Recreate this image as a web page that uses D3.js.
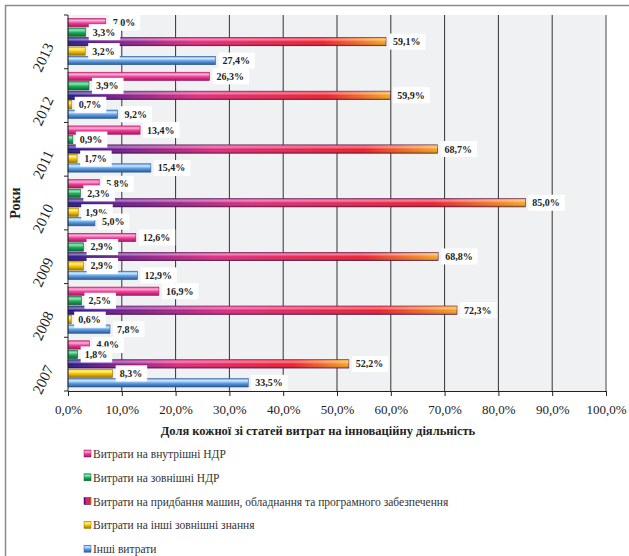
<!DOCTYPE html>
<html>
<head>
<meta charset="utf-8">
<script src="https://cdn.jsdelivr.net/npm/d3@7"></script>
<style>
  body { margin: 0; background: #fff; }
  svg { display: block; }
  svg text { font-family: 'Liberation Serif', 'Times New Roman', Times, serif !important; }
</style>
</head>
<body>
<svg id="chart" width="629" height="556"></svg>
<script>
// innovation spending shares by year, 2007-2013

const years = ['2007', '2008', '2009', '2010', '2011', '2012', '2013'];
const seriesNames = [
  'Витрати на внутрішні НДР',
  'Витрати на зовнішні НДР',
  'Витрати на придбання машин, обладнання та програмного забезпечення',
  'Витрати на інші зовнішні знання',
  'Інші витрати'
];
const internalRD = [4.0, 16.9, 12.6, 5.8, 13.4, 26.3, 7.0];
const externalRD = [1.8, 2.5, 2.9, 2.3, 0.9, 3.9, 3.3];
const machinery  = [52.2, 72.3, 68.8, 85.0, 68.7, 59.9, 59.1];
const otherKnow  = [8.3, 0.6, 2.9, 1.9, 1.7, 0.7, 3.2];
const otherCosts = [33.5, 7.8, 12.9, 5.0, 15.4, 9.2, 27.4];
const xTicks = [0, 10, 20, 30, 40, 50, 60, 70, 80, 90, 100];

const seriesValues = [internalRD, externalRD, machinery, otherKnow, otherCosts];

// colours: [light highlight, base, dark edge]
const palette = [
  ['#fbb0d8', '#ec3f97', '#a3175e'],
  ['#8ee8b0', '#1faa5e', '#0c6634'],
  ['#c060c0', '#b0208a', '#4a0a50'],
  ['#fff28a', '#f3c300', '#9c7400'],
  ['#cfeaff', '#5f9fe4', '#2a5894']
];

const svg = d3.select('#chart');
const margin = {left: 68, top: 15, right: 606, bottom: 391};

const defs = svg.append('defs');
palette.forEach((c, i) => {
  const g = defs.append('linearGradient')
    .attr('id', 'grad' + i).attr('x1', 0).attr('y1', 0).attr('x2', 0).attr('y2', 1);
  g.append('stop').attr('offset', '0%').attr('stop-color', c[1]);
  g.append('stop').attr('offset', '25%').attr('stop-color', c[0]);
  g.append('stop').attr('offset', '55%').attr('stop-color', c[1]);
  g.append('stop').attr('offset', '100%').attr('stop-color', c[2]);
});
// machinery bar runs navy -> magenta -> red -> orange along its length
const hg = defs.append('linearGradient').attr('id', 'gradMach')
  .attr('x1', 0).attr('y1', 0).attr('x2', 1).attr('y2', 0);
[['0%', '#1c168a'], ['12%', '#6a1890'], ['40%', '#e2277e'], ['80%', '#ee1a2a'], ['100%', '#f8a51c']]
  .forEach(s => hg.append('stop').attr('offset', s[0]).attr('stop-color', s[1]));
const shine = defs.append('linearGradient').attr('id', 'shine')
  .attr('x1', 0).attr('y1', 0).attr('x2', 0).attr('y2', 1);
shine.append('stop').attr('offset', '0%').attr('stop-color', '#fff').attr('stop-opacity', 0.1);
shine.append('stop').attr('offset', '25%').attr('stop-color', '#fff').attr('stop-opacity', 0.45);
shine.append('stop').attr('offset', '55%').attr('stop-color', '#fff').attr('stop-opacity', 0);
shine.append('stop').attr('offset', '100%').attr('stop-color', '#000').attr('stop-opacity', 0.35);

// outer frame
svg.append('rect')
  .attr('x', 5.5).attr('y', 5.5).attr('width', 700).attr('height', 700)
  .attr('fill', 'none').attr('stroke', '#8a8a8a').attr('stroke-width', 1.5);

const x = d3.scaleLinear().domain([0, 100]).range([margin.left, margin.right]);
const y = d3.scaleBand().domain(years.slice().reverse()).range([margin.top, margin.bottom]);
const inner = d3.scaleBand().domain(d3.range(5)).range([3.5, y.bandwidth() - 4]).paddingInner(0.12);

// plot background + grid
svg.append('rect')
  .attr('x', margin.left).attr('y', margin.top)
  .attr('width', margin.right - margin.left).attr('height', margin.bottom - margin.top)
  .attr('fill', '#f0f1f3');

svg.append('g').selectAll('line')
  .data(xTicks.slice(1))
  .join('line')
  .attr('x1', d => x(d)).attr('x2', d => x(d))
  .attr('y1', margin.top).attr('y2', margin.bottom)
  .attr('stroke', d => d === 100 ? '#8a8a8a' : '#333')
  .attr('stroke-width', d => d === 100 ? 1.6 : 1);

// bars
const barsG = svg.append('g');
seriesValues.forEach((vals, si) => {
  const g = barsG.append('g');
  g.selectAll('rect.bar')
    .data(vals)
    .join('rect')
    .attr('class', 'bar')
    .attr('x', x(0))
    .attr('y', (d, i) => y(years[i]) + inner(si))
    .attr('width', d => x(d) - x(0))
    .attr('height', inner.bandwidth())
    .attr('fill', si === 2 ? 'url(#gradMach)' : 'url(#grad' + si + ')')
    .attr('stroke', palette[si][2]).attr('stroke-width', 0.6);
  if (si === 2) {
    g.selectAll('rect.shine')
      .data(vals)
      .join('rect')
      .attr('class', 'shine')
      .attr('x', x(0))
      .attr('y', (d, i) => y(years[i]) + inner(si))
      .attr('width', d => x(d) - x(0))
      .attr('height', inner.bandwidth())
      .attr('fill', 'url(#shine)');
  }
});

// axes
const xAxis = svg.append('g')
  .attr('transform', `translate(0,${margin.bottom})`)
  .call(d3.axisBottom(x).tickValues(xTicks).tickSize(5).tickSizeOuter(0)
    .tickFormat(d => d3.format('.1f')(d).replace('.', ',') + '%'));
xAxis.attr('font-family', null);
xAxis.select('.domain').attr('stroke', '#222');
xAxis.selectAll('.tick line').attr('stroke', '#222');
xAxis.selectAll('.tick text')
  .attr('font-size', 13)
  .attr('fill', '#222').attr('dy', '1.15em');

const yAxis = svg.append('g').attr('transform', `translate(${margin.left},0)`);
yAxis.append('line')
  .attr('x1', 0).attr('x2', 0).attr('y1', margin.top).attr('y2', margin.bottom)
  .attr('stroke', '#222');
yAxis.selectAll('line.tk')
  .data(years.map(yr => y(yr)).concat([margin.bottom]))
  .join('line').attr('class', 'tk')
  .attr('x1', -4).attr('x2', 0).attr('y1', d => d).attr('y2', d => d)
  .attr('stroke', '#222');
yAxis.selectAll('text')
  .data(years)
  .join('text')
  .attr('transform', d => `translate(-14,${y(d) + y.bandwidth() / 2 + 4}) rotate(-65)`)
  .attr('text-anchor', 'end')
  .attr('font-size', 15)
  .attr('fill', '#222')
  .text(d => d);

// axis titles
svg.append('text')
  .attr('transform', `translate(20,${(margin.top + margin.bottom) / 2}) rotate(-90)`)
  .attr('text-anchor', 'middle')
  .attr('font-size', 14).attr('font-weight', 'bold').attr('fill', '#222')
  .text('Роки');

svg.append('text')
  .attr('x', 318).attr('y', 435)
  .attr('text-anchor', 'middle')
  .attr('font-size', 12.5).attr('font-weight', 'bold').attr('fill', '#222')
  .text('Доля кожної зі статей витрат на інноваційну діяльність');

// value labels with white boxes
const labelsG = svg.append('g');
seriesValues.forEach((vals, si) => {
  vals.forEach((v, i) => {
    const cy = y(years[i]) + inner(si) + inner.bandwidth() / 2;
    const lg = labelsG.append('g');
    const box = lg.append('rect').attr('fill', '#fff');
    const t = lg.append('text')
      .attr('x', x(v) + 7).attr('y', cy)
      .attr('dy', '0.35em')
      .attr('font-size', 10).attr('font-weight', 'bold').attr('fill', '#222')
      .text(d3.format('.1f')(v).replace('.', ',') + '%');
    const w = t.node().getComputedTextLength();
    box.attr('x', x(v) + 3).attr('y', cy - 8).attr('width', w + 9).attr('height', 16);
  });
});

// legend
const legend = svg.append('g').attr('transform', 'translate(84,454)');
seriesNames.forEach((name, i) => {
  const row = legend.append('g').attr('transform', `translate(0,${i * 23.8})`);
  row.append('rect')
    .attr('x', 0).attr('y', -4).attr('width', 7).attr('height', 7)
    .attr('fill', i === 2 ? 'url(#gradMach)' : 'url(#grad' + i + ')')
    .attr('stroke', palette[i][2]).attr('stroke-width', 0.5);
  row.append('text')
    .attr('x', 9).attr('y', 0).attr('dy', '0.35em')
    .attr('font-size', 11.5).attr('fill', '#333')
    .text(name);
});
</script>
</body>
</html>
